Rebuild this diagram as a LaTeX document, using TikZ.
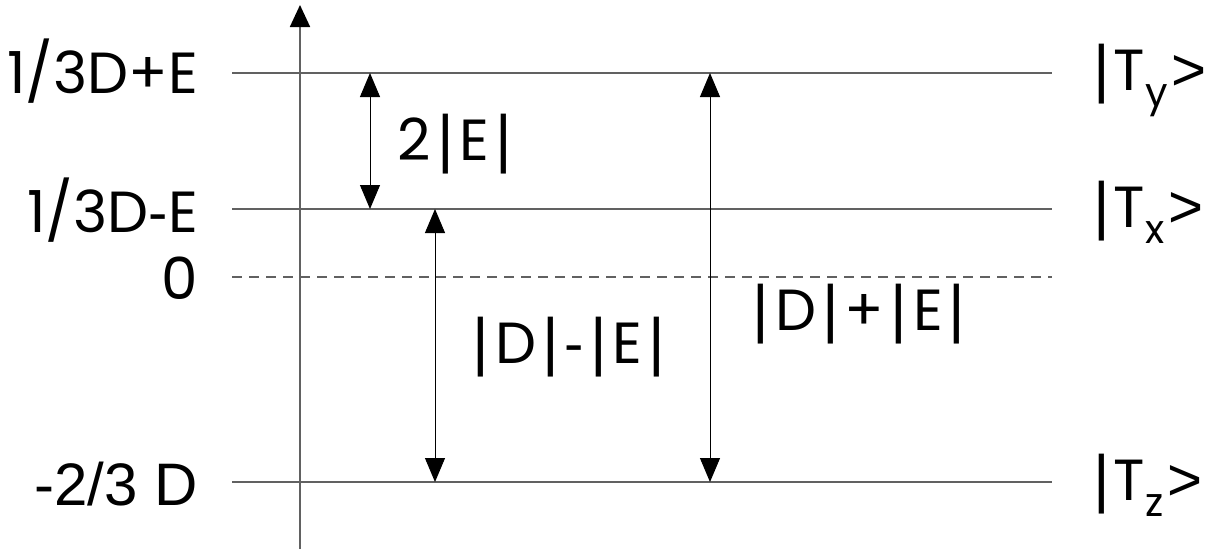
\documentclass[tikz,border=0pt]{standalone}
\usepackage{fontspec}
\setmainfont{Poppins}
\newfontfamily\arialfont{Liberation Sans}
\usetikzlibrary{arrows.meta}
\newcommand{\subsc}[1]{\raisebox{-16pt}{\fontsize{40}{40}\selectfont #1}}
\newcommand{\vbar}{{\arialfont\fontsize{64}{64}\selectfont|}}
\newcommand{\vb}{\hspace{6pt}\vbar\hspace{6pt}}
\newcommand{\hy}{{\arialfont\fontsize{58}{58}\selectfont-}}
\newcommand{\ketend}{\hspace{4pt}{\arialfont\fontsize{60}{60}\selectfont>}}
\tikzset{
  headA/.tip={Triangle[width=20pt,length=22pt,color=black]},
  headB/.tip={Triangle[width=20pt,length=24pt]}}
\begin{document}
\begin{tikzpicture}[x=1pt,y=-1pt,
  lvl/.style={draw=black!62, line width=1.8pt},
  axisline/.style={draw=black!62, line width=1.8pt, -headA},
  gap/.style={draw=black, line width=1pt, headB-headB},
  lbl/.style={inner sep=0pt, font=\fontsize{58}{58}\selectfont},
  leftlbl/.style={lbl, anchor=base east},
  rightlbl/.style={lbl, anchor=base west}]
\useasboundingbox (0,0) rectangle (1221,554);
% axis
\coordinate (axb) at (300,549);
\coordinate (axt) at (300,5);
\draw[axisline] (axb) -- (axt);
% levels
\coordinate (y1) at (232,73);  \coordinate (y2) at (1052,73);
\coordinate (x1) at (232,209); \coordinate (x2) at (1052,209);
\coordinate (o1) at (232,277); \coordinate (o2) at (1052,277);
\coordinate (z1) at (232,482); \coordinate (z2) at (1052,482);
\draw[lvl] (y1) -- (y2);
\draw[lvl] (x1) -- (x2);
\draw[lvl, dash pattern=on 10pt off 7pt] (o1) -- (o2);
\draw[lvl] (z1) -- (z2);
% left labels
\node[leftlbl] (ly) at (198,93) {1/3D+E};
\node[leftlbl] (lx) at (198,232) {1/3D\hy E};
\node[leftlbl] (lo) at (198,299) {0};
\node[leftlbl, font=\arialfont\fontsize{60}{60}\selectfont] (lz) at (198,505) {-2/3 D};
% right labels
\node[rightlbl] (ry) at (1093,90) {\vbar\hspace{4pt}T\subsc{y}\ketend};
\node[rightlbl] (rx) at (1093,227) {\vbar\hspace{4pt}T\subsc{x}\ketend};
\node[rightlbl] (rz) at (1093,500) {\vbar\hspace{4pt}T\subsc{z}\ketend};
% gap arrows
\coordinate (a1t) at (370,73);  \coordinate (a1b) at (370,209);
\coordinate (a2t) at (435,209); \coordinate (a2b) at (435,482);
\coordinate (a3t) at (710,73);  \coordinate (a3b) at (710,482);
\draw[gap] (a1t) -- (a1b);
\draw[gap] (a2t) -- (a2b);
\draw[gap] (a3t) -- (a3b);
\node[lbl, anchor=base] (e2) at (455,160) {2\vb E\vb};
\node[lbl, anchor=base] (dme) at (569,363) {\vbar\hspace{6pt}D\vb\hy\vb E\hspace{6pt}\vbar};
\node[lbl, anchor=base] (dpe) at (859,330) {\vbar\hspace{6pt}D\vb+\vb E\hspace{6pt}\vbar};
\end{tikzpicture}
\end{document}
